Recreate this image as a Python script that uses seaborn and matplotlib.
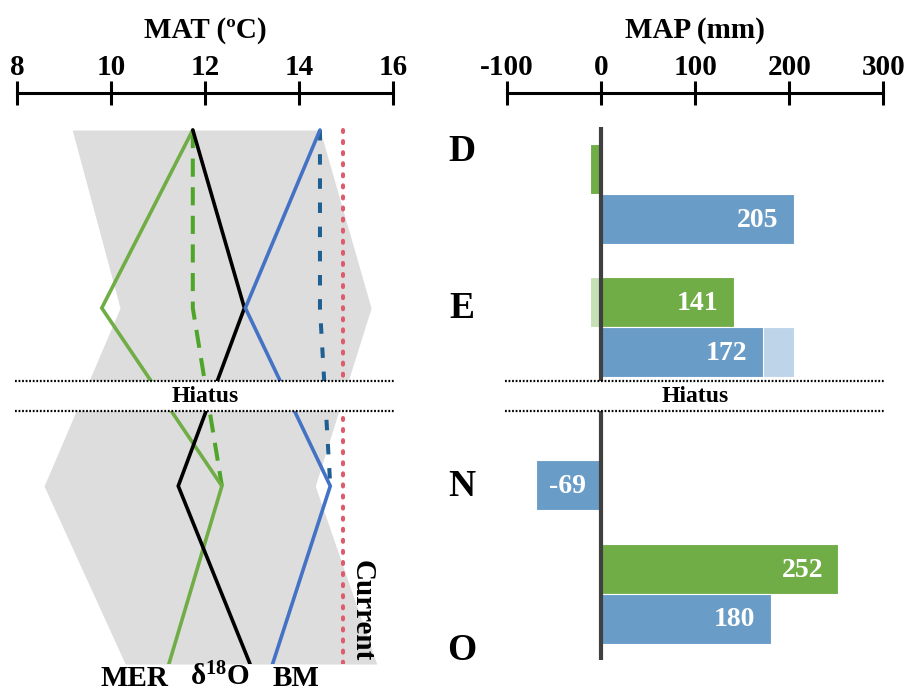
import numpy as np
import pandas as pd
import matplotlib
matplotlib.use("Agg")
import matplotlib.pyplot as plt
import matplotlib.transforms as mtransforms
from matplotlib.patches import Rectangle
import seaborn as sns

# ---------------- data ----------------
STAGES = ["D", "E", "N", "O"]
STAGE_LEVEL = [0, 1, 2, 3]

MAT_MER = [11.74, 9.80, 12.36, 11.23]
MAT_D18O = [11.74, 12.84, 11.43, 12.96]
MAT_BM = [14.45, 12.86, 14.67, 13.44]
MAT_MER_ALT = [11.74, 11.74, 12.36]      # dashed MER, stages D-N
MAT_BM_ALT = [14.45, 14.45, 14.67]       # dashed BM, stages D-N
MAT_RANGE_LOW = [9.17, 10.19, 8.57, 10.30]
MAT_RANGE_HIGH = [14.45, 15.54, 14.35, 15.66]
MAT_CURRENT = 14.95
MAT_TICKS = [8, 10, 12, 14, 16]

MAP_MER = [-12, 141, np.nan, 252]
MAP_BM = [205, 172, -69, 180]
MAP_MER_PREV = [np.nan, -12, np.nan, np.nan]
MAP_BM_PREV = [np.nan, 205, np.nan, np.nan]
MAP_TICKS = [-100, 0, 100, 200, 300]

HIATUS = (1.41, 1.58)

# ---------------- style ----------------
sns.set_style("white")
plt.rcParams["font.family"] = ["Liberation Serif", "DejaVu Serif"]
plt.rcParams["font.weight"] = "bold"
plt.rcParams["axes.labelweight"] = "bold"
plt.rcParams["axes.unicode_minus"] = False
plt.rcParams["text.color"] = "black"
plt.rcParams["axes.labelcolor"] = "black"
plt.rcParams["xtick.color"] = "black"
plt.rcParams["mathtext.fontset"] = "custom"
plt.rcParams["mathtext.rm"] = "Liberation Serif:bold"
plt.rcParams["mathtext.bf"] = "Liberation Serif:bold"
plt.rcParams["mathtext.it"] = "Liberation Serif:bold"

GREEN = "#70ad47"
GREEN_DASH = "#4fa52a"
BLUE = "#4472c4"
BLUE_DASH = "#1f5f91"
RED = "#dd5b6d"
BAR_BLUE = "#6a9cc8"
LIGHT_GREEN = "#c5e0b4"
LIGHT_BLUE = "#bed4e9"
GRAY = "#dddddd"

W, H = 908, 693
fig = plt.figure(figsize=(W / 100, H / 100), dpi=100)
top_px, bot_px = 93, 664
ax_l = fig.add_axes([17.3 / W, (H - bot_px) / H, 375.4 / W, (bot_px - top_px) / H])
ax_r = fig.add_axes([507.0 / W, (H - bot_px) / H, 376.5 / W, (bot_px - top_px) / H])

# ---------------- left panel: MAT ----------------
ax_l.fill_betweenx(STAGE_LEVEL, MAT_RANGE_LOW, MAT_RANGE_HIGH, color=GRAY, lw=0, zorder=1)

line_kw = dict(orient="y", sort=False, ax=ax_l, legend=False)
sns.lineplot(x=MAT_MER, y=STAGE_LEVEL, color=GREEN, lw=2.6, zorder=3, **line_kw)
sns.lineplot(x=MAT_D18O, y=STAGE_LEVEL, color="black", lw=2.6, zorder=3, **line_kw)
sns.lineplot(x=MAT_BM, y=STAGE_LEVEL, color=BLUE, lw=2.6, zorder=3, **line_kw)
sns.lineplot(x=MAT_MER_ALT, y=STAGE_LEVEL[:3], color=GREEN_DASH, lw=2.9, zorder=2,
             dashes=False, **line_kw)
sns.lineplot(x=MAT_BM_ALT, y=STAGE_LEVEL[:3], color=BLUE_DASH, lw=2.9, zorder=2,
             dashes=False, **line_kw)
lines = ax_l.get_lines()
lines[3].set_linestyle((0, (4.5, 2.6)))
lines[4].set_linestyle((0, (2.6, 3.4)))
for ln in lines:
    ln.set_solid_capstyle("round")
    ln.set_solid_joinstyle("miter")

ax_l.vlines(MAT_CURRENT, STAGE_LEVEL[0], STAGE_LEVEL[-1], color=RED, lw=2.9,
            linestyles=[(0, (0.5, 2.25))], capstyle="round", zorder=3)
ax_l.annotate("Current", xy=(MAT_CURRENT, STAGE_LEVEL[-1]), xytext=(4, 2),
              textcoords="offset points", rotation=270, ha="left", va="bottom",
              fontsize=21, zorder=4)

lab_kw = dict(textcoords="offset points", va="baseline", fontsize=21, annotation_clip=False)
ax_l.annotate("MER", xy=(MAT_MER[-1], STAGE_LEVEL[-1]), xytext=(0, -15.5), ha="right", **lab_kw)
ax_l.annotate(r"δ$^{18}$O", xy=(MAT_D18O[-1], STAGE_LEVEL[-1]), xytext=(0, -15.5), ha="right", **lab_kw)
ax_l.annotate("BM", xy=(MAT_BM[-1], STAGE_LEVEL[-1]), xytext=(0, -15.5), ha="left", **lab_kw)

ax_l.set_xlim(MAT_TICKS[0], MAT_TICKS[-1])
ax_l.set_ylim(3.0, -0.2079)
ax_l.set_xticks(MAT_TICKS)
ax_l.set_xlabel("MAT (ºC)", fontsize=21, labelpad=12, fontweight="bold")

# ---------------- right panel: MAP ----------------
df_prev = pd.DataFrame({"stage": STAGES * 2,
                        "proxy": ["MER"] * 4 + ["BM"] * 4,
                        "MAP": MAP_MER_PREV + MAP_BM_PREV})
df = pd.DataFrame({"stage": STAGES * 2,
                   "proxy": ["MER"] * 4 + ["BM"] * 4,
                   "MAP": MAP_MER + MAP_BM})
bar_kw = dict(x="MAP", y="stage", hue="proxy", order=STAGES, hue_order=["MER", "BM"],
              width=0.75, orient="h", errorbar=None, saturation=1, legend=False,
              edgecolor="white", linewidth=0.8, ax=ax_r)
sns.barplot(data=df_prev.dropna(), palette=[LIGHT_GREEN, LIGHT_BLUE], **bar_kw)
n_prev = len(ax_r.containers)
sns.barplot(data=df.dropna(), palette=[GREEN, BAR_BLUE], **bar_kw)

for cont in ax_r.containers[n_prev:]:
    for bar in cont:
        v = bar.get_x() + bar.get_width() if bar.get_x() >= 0 else bar.get_x()
        if abs(v) < 30:
            continue
        yc = bar.get_y() + bar.get_height() / 2
        ax_r.annotate(f"{v:.0f}", xy=(max(v, 0), yc), xytext=(-11, -1),
                      textcoords="offset points", ha="right", va="center",
                      color="white", fontsize=20, zorder=4)

ax_r.vlines(0, -0.5, len(STAGES) - 0.5, color="#404040", lw=3, zorder=3)
ax_r.set_xlim(MAP_TICKS[0], MAP_TICKS[-1])
ax_r.set_ylim(3.5285, -0.7583)
ax_r.set_xticks(MAP_TICKS)
ax_r.set_ylabel("")
ax_r.set_xlabel("MAP (mm)", fontsize=21, labelpad=12, fontweight="bold")

# stage letters
tr_stage = mtransforms.blended_transform_factory(fig.transFigure, ax_l.transData)
stage_va = ["top", "center", "center", "bottom"]
stage_dy = [-3, 0, 0, -3]
for s, lv, va, dy in zip(STAGES, STAGE_LEVEL, stage_va, stage_dy):
    fig.text(462 / W, lv, s, ha="center", va=va, fontsize=27,
             transform=tr_stage + mtransforms.ScaledTranslation(0, dy / 72, fig.dpi_scale_trans))

# ---------------- shared axis styling ----------------
for ax in (ax_l, ax_r):
    ax.xaxis.tick_top()
    ax.xaxis.set_label_position("top")
    ax.tick_params(axis="x", direction="inout", length=17, width=2.2, labelsize=21,
                   pad=0, colors="black")
    ax.tick_params(axis="y", left=False, labelleft=False)
    for side in ("left", "right", "bottom"):
        ax.spines[side].set_visible(False)
    ax.spines["top"].set_linewidth(2.2)
    ax.spines["top"].set_color("black")
    ax.set_facecolor("none")
    ax.grid(False)

    tr = mtransforms.blended_transform_factory(ax.transAxes, ax_l.transData)
    ax.add_patch(Rectangle((-0.005, HIATUS[0]), 1.01, HIATUS[1] - HIATUS[0], transform=tr,
                           facecolor="white", edgecolor="none", zorder=5, clip_on=False))
    for yv in HIATUS:
        ax.plot([-0.005, 1.005], [yv, yv], transform=tr, color="black", lw=1.6,
                ls=(0, (0.8, 0.8)), zorder=6, clip_on=False)
    ax.text(0.5, float(np.mean(HIATUS)), "Hiatus", transform=tr, ha="center",
            va="center", fontsize=17, zorder=7)

fig.savefig("out.png", dpi=100, facecolor="white")
